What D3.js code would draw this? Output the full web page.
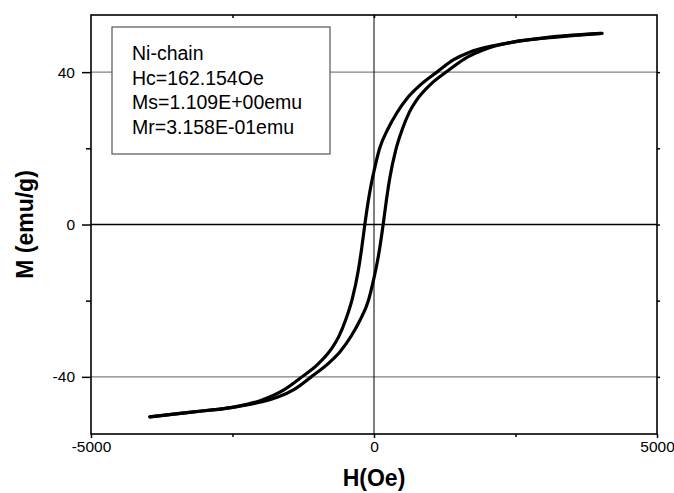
<!DOCTYPE html>
<html>
<head>
<meta charset="utf-8">
<script src="https://cdn.jsdelivr.net/npm/d3@7"></script>
<style>
  body { margin: 0; background: #fff; }
  svg { display: block; font-family: "Liberation Sans", Arial, sans-serif; }
</style>
</head>
<body>
<div id="chart"></div>
<script>
// descending branch (field swept +4000 -> -4000)
const hDesc = [4000, 3500, 3000, 2500, 2000, 1700, 1400, 1110, 800, 600, 400, 250, 100, 0, -50, -100, -162, -220, -280, -385, -500, -625, -750, -1000, -1300, -1600, -2000, -2500, -3000, -3500, -3960];
const mDesc = [50.2, 49.7, 49.0, 48.0, 46.6, 45.3, 43.2, 40.0, 36.4, 33.4, 29.2, 25.2, 20.0, 14.0, 10.5, 6.3, 0, -6.5, -12.3, -19.6, -25.0, -29.5, -32.6, -36.8, -40.3, -43.5, -46.2, -48.0, -48.9, -49.7, -50.5];
// ascending branch (field swept -4000 -> +4000)
const hAsc = [-3960, -3500, -3000, -2500, -2000, -1700, -1400, -1110, -800, -600, -400, -250, -100, 0, 50, 100, 162, 220, 280, 385, 500, 625, 750, 1000, 1300, 1600, 2000, 2500, 3000, 3500, 4030];
const mAsc = [-50.5, -49.7, -48.9, -48.0, -46.6, -45.3, -43.2, -40.0, -36.4, -33.4, -29.2, -25.2, -20.0, -14.0, -10.5, -6.3, 0, 6.5, 12.3, 19.6, 25.0, 29.5, 32.6, 36.8, 40.3, 43.5, 46.2, 48.0, 48.9, 49.6, 50.2];

const xMajor = [-5000, 0, 5000];
const xMinor = [-2500, 2500];
const yMajor = [-40, 0, 40];
const yMinor = [-20, 20];
const gridY = [-40, 40];

const legendLines = ['Ni-chain', 'Hc=162.154Oe', 'Ms=1.109E+00emu', 'Mr=3.158E-01emu'];

const W = 674, H = 493;
const margin = { top: 15, right: 17, bottom: 59, left: 91 };
const width = W - margin.left - margin.right;
const height = H - margin.top - margin.bottom;

const svg = d3.select('#chart').append('svg')
  .attr('width', W)
  .attr('height', H);

const g = svg.append('g')
  .attr('transform', `translate(${margin.left},${margin.top})`);

const x = d3.scaleLinear().domain([-5000, 5000]).range([0, width]);
const y = d3.scaleLinear().domain([-55, 55]).range([height, 0]);

// grid lines
g.selectAll('.grid-y')
  .data(gridY)
  .join('line')
  .attr('x1', 0).attr('x2', width)
  .attr('y1', d => y(d)).attr('y2', d => y(d))
  .attr('stroke', '#808080')
  .attr('stroke-width', 1.3);

g.append('line')
  .attr('x1', 0).attr('x2', width)
  .attr('y1', y(0)).attr('y2', y(0))
  .attr('stroke', '#000')
  .attr('stroke-width', 1.3);

g.append('line')
  .attr('x1', x(0)).attr('x2', x(0))
  .attr('y1', 0).attr('y2', height)
  .attr('stroke', '#000')
  .attr('stroke-width', 1);

// hysteresis loop, each branch drawn left to right
const line = d3.line()
  .x(d => x(d[0]))
  .y(d => y(d[1]))
  .curve(d3.curveMonotoneX);

const branches = [
  hDesc.map((h, i) => [h, mDesc[i]]).sort((a, b) => a[0] - b[0]),
  hAsc.map((h, i) => [h, mAsc[i]]).sort((a, b) => a[0] - b[0])
];

g.selectAll('.branch')
  .data(branches)
  .join('path')
  .attr('class', 'branch')
  .attr('d', line)
  .attr('fill', 'none')
  .attr('stroke', '#000')
  .attr('stroke-width', 3.2)
  .attr('stroke-linecap', 'round')
  .attr('stroke-linejoin', 'round');

// legend box
const legend = g.append('g').attr('transform', 'translate(21,12)');
legend.append('rect')
  .attr('width', 218)
  .attr('height', 127)
  .attr('fill', '#fff')
  .attr('stroke', '#555')
  .attr('stroke-width', 1.2);
legend.selectAll('text')
  .data(legendLines)
  .join('text')
  .attr('x', 20)
  .attr('y', (d, i) => 33 + i * 24.5)
  .style('font-size', '19.5px')
  .text(d => d);

// axes
const fmt = d => String(d);
function styleAxis(sel) {
  sel.select('.domain').remove();
  sel.selectAll('.tick line').attr('stroke', '#000').attr('stroke-width', 1.5);
  sel.selectAll('.tick text').style('font-size', '15.5px').attr('fill', '#000');
}

g.append('g')
  .call(d3.axisLeft(y).tickValues(yMajor).tickSize(9).tickPadding(7).tickFormat(fmt))
  .call(styleAxis);
g.append('g')
  .call(d3.axisLeft(y).tickValues(yMinor).tickSize(5).tickFormat(''))
  .call(styleAxis);

g.append('g')
  .attr('transform', `translate(0,${height})`)
  .call(d3.axisBottom(x).tickValues(xMajor).tickSize(4).tickPadding(3).tickFormat(fmt))
  .call(styleAxis);
g.append('g')
  .attr('transform', `translate(0,${height})`)
  .call(d3.axisBottom(x).tickValues(xMinor).tickSize(3).tickFormat(''))
  .call(styleAxis);

g.append('g')
  .call(d3.axisTop(x).tickValues(xMinor.concat([0])).tickSize(-3).tickFormat(''))
  .call(styleAxis);
g.append('g')
  .attr('transform', `translate(${width},0)`)
  .call(d3.axisRight(y).tickValues(yMajor.concat(yMinor)).tickSize(3).tickFormat(''))
  .call(styleAxis);

// frame
g.append('rect')
  .attr('width', width)
  .attr('height', height)
  .attr('fill', 'none')
  .attr('stroke', '#000')
  .attr('stroke-width', 1.6);

// axis titles
svg.append('text')
  .attr('x', margin.left + x(0))
  .attr('y', 486)
  .attr('text-anchor', 'middle')
  .style('font-size', '23px')
  .style('font-weight', 'bold')
  .text('H(Oe)');

svg.append('text')
  .attr('transform', `translate(33,${margin.top + y(0)}) rotate(-90)`)
  .attr('text-anchor', 'middle')
  .style('font-size', '23px')
  .style('font-weight', 'bold')
  .text('M (emu/g)');
</script>
</body>
</html>
